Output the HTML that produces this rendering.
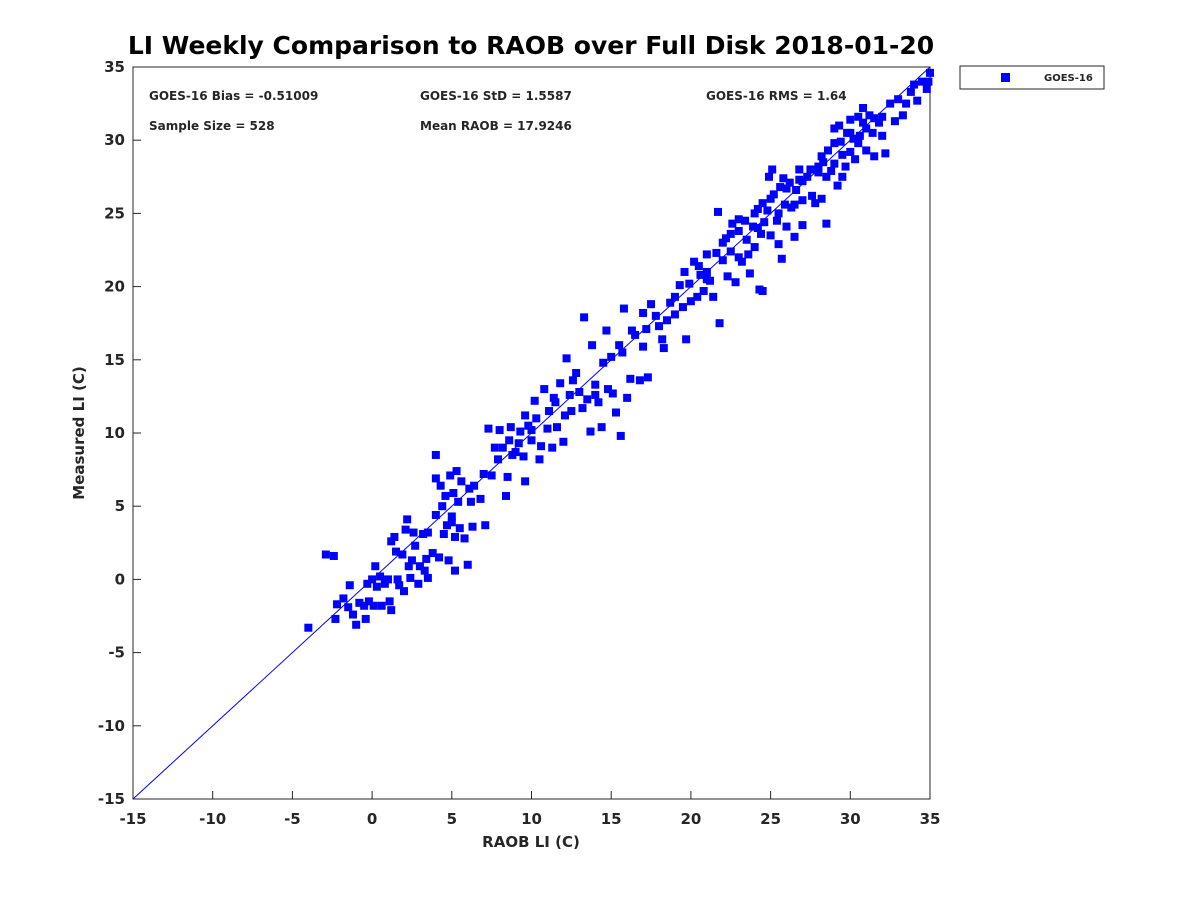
<!DOCTYPE html>
<html><head><meta charset="utf-8"><style>
body{margin:0;background:#fff;}
svg text{font-family:"DejaVu Sans","Liberation Sans",sans-serif;font-weight:bold;fill:#262626;}
</style></head><body>
<svg id="chart" width="1200" height="900" viewBox="0 0 1200 900" xmlns="http://www.w3.org/2000/svg">
<rect width="1200" height="900" fill="#fff"/>
<text x="531" y="54" text-anchor="middle" font-size="25" style="fill:#000">LI Weekly Comparison to RAOB over Full Disk 2018-01-20</text>
<rect x="133" y="67" width="797" height="732" fill="#fff" stroke="#262626" stroke-width="1"/>
<g id="ticks"></g>
<line id="one-to-one" stroke="#0000ff" stroke-width="1"/>
<g id="pts"></g>
<text x="149" y="100" font-size="12">GOES-16 Bias = -0.51009</text>
<text x="420" y="100" font-size="12">GOES-16 StD = 1.5587</text>
<text x="706" y="100" font-size="12">GOES-16 RMS = 1.64</text>
<text x="149" y="130" font-size="12">Sample Size = 528</text>
<text x="420" y="130" font-size="12">Mean RAOB = 17.9246</text>
<text x="531" y="847" text-anchor="middle" font-size="15">RAOB LI (C)</text>
<text transform="translate(84,433) rotate(-90)" text-anchor="middle" font-size="15">Measured LI (C)</text>
<g>
<rect x="960" y="66" width="144" height="23" fill="#fff" stroke="#262626" stroke-width="1"/>
<rect x="1001" y="73" width="9" height="9" fill="#0000ff"/>
<text x="1044" y="81" font-size="10">GOES-16</text>
</g>
</svg>
<script>
const xTicks=[-15,-10,-5,0,5,10,15,20,25,30,35];
const yTicks=[-15,-10,-5,0,5,10,15,20,25,30,35];
const raob=[-4,-2.9,-2.4,-2.2,-2.3,-1.8,-1.5,-1.4,-1.2,-1,-0.8,-0.5,-0.4,-0.3,0,-0.2,0.1,0.2,0.3,0.5,0.6,0.8,1,1.1,1.2,1.2,1.4,1.5,1.6,1.7,1.9,2.1,2.2,2.0,2.3,2.4,2.5,2.6,2.7,2.9,3.0,3.2,3.3,3.4,3.5,3.5,3.8,4,4,4,4.2,4.3,4.4,4.5,4.6,4.7,4.8,4.9,5,5,5.1,5.2,5.2,5.3,5.4,5.5,5.6,5.8,6,6.1,6.2,6.3,6.4,6.8,7,7.1,7.3,7.5,7.7,7.9,8,8.2,8.4,8.5,8.6,8.7,8.8,9,9.2,9.3,9.5,9.6,9.6,9.8,10,10,10.2,10.3,10.5,10.6,10.8,11,11.1,11.3,11.4,11.5,11.6,11.8,12,12.1,12.2,12.4,12.5,12.6,12.8,13,13.2,13.3,13.5,13.7,13.8,14,14,14.2,14.4,14.5,14.7,14.8,15,15.1,15.3,15.5,15.6,15.7,15.8,16,16.2,16.3,16.5,16.8,17,17,17.2,17.3,17.5,17.8,18,18.2,18.3,18.5,18.7,19,19,19.3,19.5,19.6,19.7,19.9,20,20.2,20.4,20.6,20.8,21,21,21.2,21.4,21.6,21.7,21.8,22,22.2,22.3,22.5,22.6,22.8,23,23,23.2,23.4,23.6,23.7,23.9,24,24.2,24.3,24.4,24.5,24.6,24.8,24.9,25,25.1,25.2,25.4,25.5,25.6,25.7,25.9,26,26.2,26.3,26.5,26.6,26.8,27,27,27.3,27.5,27.6,27.8,28,28.2,28.3,28.5,28.6,28.8,29,29,29.2,29.4,29.5,29.7,29.8,30,30,30.2,30.3,30.5,30.6,30.8,31,31.2,31.4,31.5,31.8,32,32.2,32.5,32.8,33,33.3,33.5,33.8,34,34.2,34.5,34.8,35,34.9,22,22.5,23.5,24,24.5,25,25.5,26,26.5,27,28,28.5,29,29.5,30,31,30.5,31.5,32,21,20.5,23,24.2,25.8,26.8,28.2,29.3,30.8];
const measured=[-3.3,1.7,1.6,-1.7,-2.7,-1.3,-1.9,-0.4,-2.4,-3.1,-1.6,-1.8,-2.7,-0.3,0,-1.5,-1.8,0.9,-0.5,0.2,-1.8,-0.3,0,-1.5,-2.1,2.6,2.9,1.9,0,-0.4,1.7,3.4,4.1,-0.8,0.9,0.1,1.3,3.2,2.3,-0.3,0.9,3.1,0.6,1.4,0.1,3.2,1.8,4.4,6.9,8.5,1.5,6.4,5.0,3.1,5.7,3.7,1.3,7.1,3.9,4.3,5.9,0.6,2.9,7.4,5.3,3.5,6.7,2.8,1,6.2,5.3,3.6,6.4,5.5,7.2,3.7,10.3,7.1,9,8.2,10.2,9,5.7,7,9.5,10.4,8.5,8.7,9.3,10.1,8.4,6.7,11.2,10.5,9.5,10.2,12.2,11,8.2,9.1,13,10.3,11.5,9,12.4,12.1,10.4,13.4,9.4,11.2,15.1,12.6,11.5,13.6,14.1,12.8,11.7,17.9,12.3,10.1,16,12.6,13.3,12.1,10.4,14.8,17,13,15.2,12.7,11.4,16,9.8,15.5,18.5,12.4,13.7,17,16.7,13.6,18.2,15.9,17.1,13.8,18.8,18,17.3,16.4,15.8,17.7,18.9,19.3,18.1,20.1,18.6,21,16.4,20.2,19,21.7,19.3,20.8,19.7,22.2,21,20.4,19.3,22.3,25.1,17.5,21.8,23.3,20.7,22.4,24.3,20.3,23.8,22,21.7,24.5,22.2,20.9,24.1,22.7,25.3,19.8,23.6,19.7,24.4,25.2,27.5,23.5,28,26.3,24.5,22.9,26.8,21.9,25.6,24.1,27.1,25.4,23.4,26.6,27.3,25.9,24.2,27.5,28,26.2,25.7,27.8,26,28.5,24.3,29.3,27.9,30.8,28.4,26.9,29.9,27.5,28.2,30.5,31.4,29.2,30.1,28.7,31.6,30.3,31.2,29.3,31.7,30.5,28.9,31.2,30.3,29.1,32.5,31.3,32.8,31.7,32.5,33.3,33.8,32.7,34,33.5,34.6,34,23,23.6,23.2,25,25.7,26,25,26.7,25.6,27.2,28.2,27.5,29.8,29,30.5,30.8,29.8,31.5,31.6,20.5,21.4,24.6,24,27.4,28,28.9,31,32.2];
const X0=133,X1=930,Y0=799,Y1=67,DMIN=-15,DMAX=35;
function xs(v){return X0+(v-DMIN)/(DMAX-DMIN)*(X1-X0);}
function ys(v){return Y0-(v-DMIN)/(DMAX-DMIN)*(Y0-Y1);}
const NS="http://www.w3.org/2000/svg";
const tg=document.getElementById('ticks');
xTicks.forEach(t=>{
 const l=document.createElementNS(NS,'line');
 l.setAttribute('x1',xs(t));l.setAttribute('x2',xs(t));l.setAttribute('y1',Y0);l.setAttribute('y2',Y0-8);l.setAttribute('stroke','#262626');
 
 
 tg.appendChild(l);
 const tx=document.createElementNS(NS,'text');
 tx.setAttribute('x',xs(t));tx.setAttribute('y',Y0+25);tx.setAttribute('text-anchor','middle');tx.setAttribute('font-size','15');
 tx.textContent=t;
 
 
 tg.appendChild(tx);
});
yTicks.forEach(t=>{
 const l=document.createElementNS(NS,'line');
 l.setAttribute('x1',X0);l.setAttribute('x2',X0+8);l.setAttribute('y1',ys(t));l.setAttribute('y2',ys(t));l.setAttribute('stroke','#262626');
 
 
 tg.appendChild(l);
 const tx=document.createElementNS(NS,'text');
 tx.setAttribute('x',X0-8);tx.setAttribute('y',ys(t)+5);tx.setAttribute('text-anchor','end');tx.setAttribute('font-size','15');
 tx.textContent=t;
 
 
 tg.appendChild(tx);
});
const ol=document.getElementById('one-to-one');
ol.setAttribute('x1',xs(DMIN));ol.setAttribute('y1',ys(DMIN));ol.setAttribute('x2',xs(DMAX));ol.setAttribute('y2',ys(DMAX));
const pg=document.getElementById('pts');
for(let i=0;i<raob.length;i++){
 const r=document.createElementNS(NS,'rect');
 r.setAttribute('x',xs(raob[i])-4);r.setAttribute('y',ys(measured[i])-4);
 r.setAttribute('width',8);r.setAttribute('height',8);r.setAttribute('fill','#0000ff');
 
 
 pg.appendChild(r);
}
</script>
</body></html>
